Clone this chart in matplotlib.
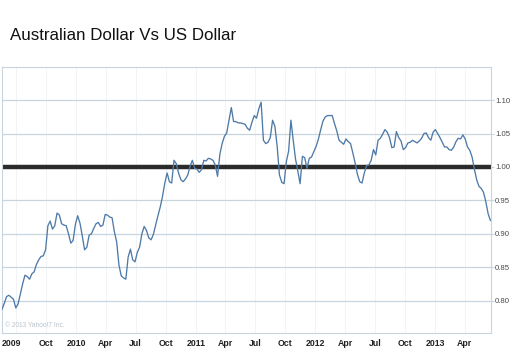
import pandas as pd
import matplotlib.pyplot as plt
from matplotlib.transforms import ScaledTranslation

# Weekly AUD/USD close (first week starts mid May 2009)
start_date = "2009-05-19"
aud_usd = [
    0.787, 0.796, 0.806, 0.808, 0.805, 0.802, 0.789, 0.795, 0.810, 0.825,
    0.838, 0.836, 0.832, 0.840, 0.843, 0.854, 0.861, 0.866, 0.867, 0.876,
    0.912, 0.919, 0.907, 0.912, 0.931, 0.928, 0.915, 0.913, 0.912, 0.900,
    0.886, 0.890, 0.914, 0.927, 0.916, 0.897, 0.876, 0.880, 0.898, 0.900,
    0.908, 0.915, 0.917, 0.911, 0.913, 0.929, 0.928, 0.925, 0.924, 0.903,
    0.888, 0.853, 0.837, 0.834, 0.832, 0.865, 0.877, 0.861, 0.858, 0.872,
    0.880, 0.900, 0.911, 0.905, 0.894, 0.891, 0.899, 0.913, 0.927, 0.940,
    0.956, 0.976, 0.991, 0.978, 0.976, 1.010, 1.005, 0.991, 0.981, 0.978,
    0.982, 0.988, 1.001, 1.010, 0.998, 0.997, 0.992, 0.996, 1.010, 1.009,
    1.013, 1.012, 1.010, 1.003, 0.986, 1.019, 1.035, 1.046, 1.051, 1.070,
    1.089, 1.068, 1.068, 1.066, 1.066, 1.065, 1.064, 1.058, 1.055, 1.067,
    1.077, 1.073, 1.087, 1.097, 1.040, 1.035, 1.037, 1.044, 1.070, 1.061,
    1.031, 0.988, 0.977, 0.975, 1.008, 1.024, 1.070, 1.040, 1.012, 0.994,
    0.975, 1.016, 1.014, 0.998, 1.013, 1.015, 1.023, 1.031, 1.042, 1.056,
    1.069, 1.075, 1.077, 1.077, 1.077, 1.065, 1.054, 1.040, 1.037, 1.034,
    1.042, 1.038, 1.035, 1.021, 1.006, 0.989, 0.978, 0.976, 0.991, 1.002,
    1.003, 1.010, 1.026, 1.018, 1.040, 1.043, 1.049, 1.056, 1.052, 1.044,
    1.029, 1.030, 1.053, 1.044, 1.039, 1.026, 1.029, 1.036, 1.037, 1.040,
    1.038, 1.036, 1.039, 1.043, 1.050, 1.051, 1.044, 1.040, 1.052, 1.056,
    1.050, 1.044, 1.037, 1.030, 1.030, 1.026, 1.025, 1.030, 1.038, 1.043,
    1.042, 1.048, 1.042, 1.030, 1.025, 1.015, 0.997, 0.981, 0.971, 0.968,
    0.962, 0.948, 0.930, 0.920,
]

tick_dates = ["2009-07-01", "2009-10-01", "2010-01-01", "2010-04-01", "2010-07-01",
              "2010-10-01", "2011-01-01", "2011-04-01", "2011-07-01", "2011-10-01",
              "2012-01-01", "2012-04-01", "2012-07-01", "2012-10-01", "2013-01-01",
              "2013-04-01"]
tick_labels = ["2009", "Oct", "2010", "Apr", "Jul", "Oct", "2011", "Apr", "Jul", "Oct",
               "2012", "Apr", "Jul", "Oct", "2013", "Apr"]
y_ticks = [0.80, 0.85, 0.90, 0.95, 1.00, 1.05, 1.10]
parity = 1.00

dates = pd.date_range(start_date, periods=len(aud_usd), freq="7D")

plt.rcParams["font.family"] = ["Liberation Sans", "DejaVu Sans"]

fig = plt.figure(figsize=(5.11, 3.52), dpi=100)
ax = fig.add_axes([0.0033, 0.054, 0.9577, 0.7557])

grid_col = "#c9d5de"
ax.set_ylim(0.7515, 1.1497)
ax.set_xlim(pd.Timestamp("2009-05-18"), pd.Timestamp("2013-06-20"))

for v in y_ticks:
    ax.axhline(v, color=grid_col, lw=0.9, zorder=1)
for d in tick_dates:
    ax.axvline(pd.Timestamp(d), color="#eef2f5", lw=0.6, zorder=0)

ax.axhline(parity, color="#2b2b2b", lw=3.2, zorder=2)
ax.plot(dates, aud_usd, color="#4f7aa8", lw=0.95, zorder=3)

for s in ax.spines.values():
    s.set_color(grid_col)
    s.set_linewidth(0.8)

ax.yaxis.tick_right()
ax.set_yticks(y_ticks)
ax.set_yticklabels([f"{v:.2f}" for v in y_ticks])
ax.tick_params(axis="y", length=2, width=0.8, color=grid_col, pad=1,
               labelsize=5.6, labelcolor="#4a4a4a")

ax.set_xticks([pd.Timestamp(d) for d in tick_dates])
ax.set_xticklabels(tick_labels, fontweight="bold")
ax.tick_params(axis="x", length=0, pad=4, labelsize=6.3, labelcolor="#222222")

# first label sits a little to the left of its tick in the original
first = ax.get_xticklabels()[0]
first.set_transform(first.get_transform() + ScaledTranslation(-0.05, 0, fig.dpi_scale_trans))

ax.text(0.006, 0.03, "\u00a9 2013 Yahoo!7 Inc.", transform=ax.transAxes,
        fontsize=4.8, color="#b9c4cc", va="center", ha="left")

fig.text(10 / 511, 1 - 39.5 / 352, "Australian Dollar Vs US Dollar",
         fontsize=12.2, color="#111111", va="baseline")

fig.savefig("out.png", dpi=100)
